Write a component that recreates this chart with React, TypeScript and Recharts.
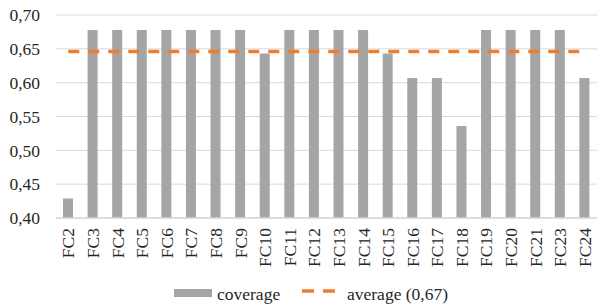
import React from 'react';
import { ComposedChart, Bar, Line, XAxis, YAxis, CartesianGrid, Legend } from 'recharts';

const categories = [
  'FC2', 'FC3', 'FC4', 'FC5', 'FC6', 'FC7', 'FC8', 'FC9', 'FC10', 'FC11', 'FC12',
  'FC13', 'FC14', 'FC15', 'FC16', 'FC17', 'FC18', 'FC19', 'FC20', 'FC21', 'FC23', 'FC24',
];
const coverage = [
  0.429, 0.678, 0.678, 0.678, 0.678, 0.678, 0.678, 0.678, 0.643, 0.678, 0.678,
  0.678, 0.678, 0.643, 0.607, 0.607, 0.536, 0.678, 0.678, 0.678, 0.678, 0.607,
];
const average = [
  0.646, 0.646, 0.646, 0.646, 0.646, 0.646, 0.646, 0.646, 0.646, 0.646, 0.646,
  0.646, 0.646, 0.646, 0.646, 0.646, 0.646, 0.646, 0.646, 0.646, 0.646, 0.646,
];
const yTicks = [0.4, 0.45, 0.5, 0.55, 0.6, 0.65, 0.7];
const coverageLabel = 'coverage';
const averageLabel = 'average (0,67)';

const data = categories.map((name, i) => ({ name, coverage: coverage[i], average: average[i] }));

const FONT = 'Liberation Serif';
const TEXT = '#262626';
const BAR = '#A5A5A5';
const LINE = '#ED7D31';

function XTick(props: any) {
  const { x, y, payload } = props;
  const ty = y + 2;
  return (
    <text
      x={x}
      y={ty}
      transform={`rotate(-90, ${x}, ${ty})`}
      textAnchor="end"
      dy="0.35em"
      fontFamily={FONT}
      fontSize={17.5}
      fill={TEXT}
    >
      {payload.value}
    </text>
  );
}

function LegendContent() {
  return (
    <svg width={599} height={28} style={{ display: 'block' }}>
      <rect x={174} y={10} width={38} height={8} fill={BAR} />
      <text x={217} y={21} fontFamily={FONT} fontSize={17.5} fill={TEXT}>
        {coverageLabel}
      </text>
      <line x1={302} y1={12} x2={336} y2={12} stroke={LINE} strokeWidth={3.5} strokeDasharray="12 9" />
      <text x={347} y={21} fontFamily={FONT} fontSize={17.5} fill={TEXT}>
        {averageLabel}
      </text>
    </svg>
  );
}

export default function App() {
  return (
    <div style={{ position: 'absolute', left: 0, top: 0, width: 599, height: 307, background: '#fff' }}>
      <ComposedChart
        width={599}
        height={307}
        data={data}
        margin={{ top: 15, right: 2, bottom: 0, left: 0 }}
        barSize={10}
      >
        <CartesianGrid vertical={false} stroke="#D9D9D9" strokeWidth={1} />
        <XAxis
          dataKey="name"
          interval={0}
          height={61}
          tickLine={false}
          axisLine={{ stroke: '#D9D9D9', strokeWidth: 1.5 }}
          tick={<XTick />}
        />
        <YAxis
          domain={[0.4, 0.7]}
          ticks={yTicks}
          width={56}
          axisLine={false}
          tickLine={false}
          tickMargin={10}
          allowDataOverflow
          tickFormatter={(v: number) => v.toFixed(2).replace('.', ',')}
          tick={{ fontFamily: FONT, fontSize: 17.5, fill: TEXT }}
        />
        <Bar dataKey="coverage" fill={BAR} isAnimationActive={false} />
        <Line
          dataKey="average"
          type="linear"
          stroke={LINE}
          strokeWidth={3.5}
          strokeDasharray="11 9"
          dot={false}
          activeDot={false}
          isAnimationActive={false}
        />
        <Legend
          verticalAlign="bottom"
          height={28}
          content={<LegendContent />}
          wrapperStyle={{ left: 0, top: 279, width: 599, height: 28 }}
        />
      </ComposedChart>
    </div>
  );
}
